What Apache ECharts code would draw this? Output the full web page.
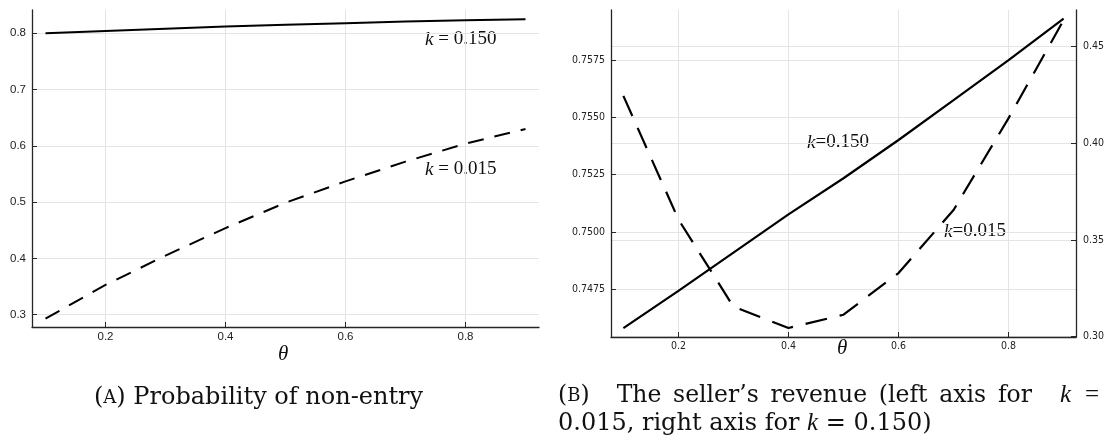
<!DOCTYPE html>
<html><head><meta charset="utf-8">
<script src="https://cdn.jsdelivr.net/npm/echarts@6/dist/echarts.min.js"></script>
<style>html,body{margin:0;padding:0;background:#fff}#c{width:1112px;height:446px}</style>
</head><body><div id="c"></div>
<script>
// ---- data ----
const theta = [0.1, 0.2, 0.3, 0.4, 0.5, 0.6, 0.7, 0.8, 0.9];
// (A) probability of non-entry
const nonEntryK150 = [0.800, 0.804, 0.808, 0.812, 0.815, 0.818, 0.821, 0.823, 0.825];
const nonEntryK015 = [0.293, 0.353, 0.405, 0.454, 0.499, 0.537, 0.572, 0.604, 0.630];
// (B) seller's revenue
const revenueK015 = [0.75593, 0.75054, 0.74673, 0.74580, 0.74638, 0.74820, 0.75095, 0.75496, 0.75924]; // left axis
const revenueK150 = [0.3043, 0.3236, 0.3434, 0.3632, 0.3819, 0.4017, 0.4223, 0.4431, 0.4645];        // right axis
// tick labels
const xTicks = [0.2, 0.4, 0.6, 0.8];
const yTicksA = [0.3, 0.4, 0.5, 0.6, 0.7, 0.8];
const yTicksBLeft = [0.7475, 0.7500, 0.7525, 0.7550, 0.7575];
const yTicksBRight = [0.30, 0.35, 0.40, 0.45];

const pairs = (xs, ys) => xs.map((x, i) => [x, ys[i]]);

const AXIS_COLOR = '#262626';
const GRID_COLOR = '#e4e4e4';
const LBL_A = {fontFamily: 'Liberation Sans, Arial, sans-serif', fontSize: 11.5, color: '#222'};
const LBL_B = {fontFamily: '"DejaVu Sans Condensed", "DejaVu Sans", sans-serif', fontSize: 10.5, color: '#222'};

function valAxis(o) {
  return {
    type: 'value',
    gridIndex: o.grid,
    position: o.position,
    min: o.min, max: o.max,
    axisLine: {show: true, onZero: false, lineStyle: {color: AXIS_COLOR, width: 1.3}},
    axisTick: {show: true, inside: true, length: 5, customValues: o.ticks, lineStyle: {color: AXIS_COLOR, width: 1}},
    axisLabel: Object.assign({show: true, customValues: o.ticks, margin: o.margin,
      formatter: v => v.toFixed(o.dec)}, o.font),
    splitLine: {show: true, lineStyle: {color: GRID_COLOR, width: 1}},
    splitArea: {show: false}
  };
}

const chart = echarts.init(document.getElementById('c'), null, {renderer: 'canvas'});

const serif = 'Liberation Serif, "Times New Roman", serif';
const capFont = '"DejaVu Serif", serif';
const CAP = 23.5;
function kLabel(text, x, y, size) {
  return {
    type: 'text', left: x, top: y,
    style: {
      text: '{i|k}' + text,
      rich: {i: {fontFamily: serif, fontStyle: 'italic', fontSize: size, fill: '#111'}},
      font: size + 'px ' + serif, fill: '#111'
    }
  };
}
function word(t, x, y, opts) {
  opts = opts || {};
  return {
    type: 'text', left: x, top: y,
    style: Object.assign({text: t, font: (opts.italic ? 'italic ' : '') + (opts.size || CAP) + 'px ' + (opts.family || capFont), fill: '#111'}, opts.rich ? {rich: opts.rich} : {})
  };
}
const scRich = {sc: {fontFamily: capFont, fontSize: 18, fill: '#111'}};

// justify caption B first line between its left edge and the "for" word end
const ctx = document.createElement('canvas').getContext('2d');
function w(t, font) { ctx.font = font; return ctx.measureText(t).width; }
const capF = CAP + 'px ' + capFont;
const line1 = ['(B)', 'The', 'seller’s', 'revenue', '(left', 'axis', 'for'];
const widths = line1.map(t => t === '(B)' ? w('()', capF) + w('B', '18px ' + capFont) : w(t, capF));
const L = 558, R = 1032, quad = 2.3;
const totalW = widths.reduce((a, b) => a + b, 0);
const gap = (R - L - totalW) / (line1.length - 2 + quad);
const line1Graphics = [];
let cx = L;
line1.forEach((t, i) => {
  if (t === '(B)') line1Graphics.push(word('({sc|B})', cx, 384, {rich: scRich}));
  else line1Graphics.push(word(t, cx, 384));
  cx += widths[i] + (i === 0 ? gap * quad : gap);
});

chart.setOption({
  animation: false,
  backgroundColor: '#fff',
  grid: [
    {left: 32, top: 10, width: 507, height: 317, containLabel: false},
    {left: 611, top: 10, width: 465, height: 327, containLabel: false}
  ],
  xAxis: [
    valAxis({grid: 0, position: 'bottom', min: 0.0775, max: 0.9225, ticks: xTicks, dec: 1, margin: 4, font: LBL_A}),
    valAxis({grid: 1, position: 'bottom', min: 0.0775, max: 0.9225, ticks: xTicks, dec: 1, margin: 4, font: LBL_B})
  ],
  yAxis: [
    valAxis({grid: 0, position: 'left', min: 0.2782, max: 0.8414, ticks: yTicksA, dec: 1, margin: 6, font: LBL_A}),
    valAxis({grid: 1, position: 'left', min: 0.745407, max: 0.75968, ticks: yTicksBLeft, dec: 4, margin: 6, font: LBL_B}),
    valAxis({grid: 1, position: 'right', min: 0.2997, max: 0.469, ticks: yTicksBRight, dec: 2, margin: 7, font: LBL_B})
  ],
  series: [
    {type: 'line', name: 'k=0.150', xAxisIndex: 0, yAxisIndex: 0, data: pairs(theta, nonEntryK150),
      showSymbol: false, lineStyle: {color: '#000', width: 2}},
    {type: 'line', name: 'k=0.015', xAxisIndex: 0, yAxisIndex: 0, data: pairs(theta, nonEntryK015),
      showSymbol: false, lineStyle: {color: '#000', width: 2, type: [16, 11]}},
    {type: 'line', name: 'k=0.015 revenue', xAxisIndex: 1, yAxisIndex: 1, data: pairs(theta, revenueK015),
      showSymbol: false, lineStyle: {color: '#000', width: 2.2, type: [22, 13]}},
    {type: 'line', name: 'k=0.150 revenue', xAxisIndex: 1, yAxisIndex: 2, data: pairs(theta, revenueK150),
      showSymbol: false, lineStyle: {color: '#000', width: 2.2}}
  ],
  graphic: [
    kLabel(' = 0.150', 425, 30, 19),
    kLabel(' = 0.015', 425, 160, 19),
    kLabel('=0.150', 807, 133, 19),
    kLabel('=0.015', 944, 222, 19),
    word('θ', 278, 344, {italic: true, size: 21, family: serif}),
    word('θ', 837, 338, {italic: true, size: 21, family: serif}),
    // caption A
    word('({sc|A}) Probability of non-entry', 94, 386, {rich: scRich, size: 24})
  ].concat(line1Graphics, [
    word('k', 1060, 383, {italic: true, family: serif, size: 25}),
    word('=', 1085, 383, {family: serif, size: 25}),
    // caption B, line 2
    {type: 'text', left: 558, top: 411, style: {
      text: '0.015, right axis for {i|k} = 0.150)',
      font: '24px ' + capFont, fill: '#111',
      rich: {i: {fontFamily: serif, fontStyle: 'italic', fontSize: 25, fill: '#111'}}
    }}
  ])
});
</script>
</body></html>
